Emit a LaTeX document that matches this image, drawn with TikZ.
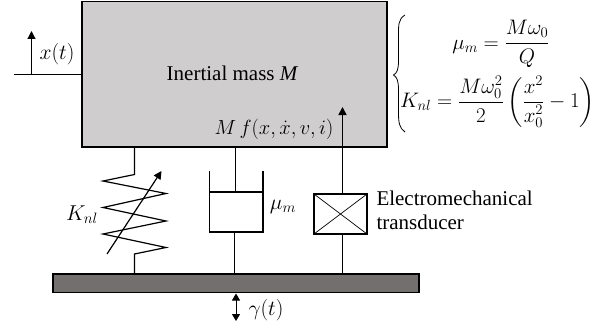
\documentclass[tikz,border=0pt]{standalone}
\usepackage{fix-cm}
\usepackage{amsmath}
\usepackage{fontspec}
\setmainfont{Liberation Serif}
\usetikzlibrary{arrows.meta}
\definecolor{massgray}{RGB}{207,205,206}
\definecolor{basegray}{RGB}{115,111,110}
\tikzset{
  every node/.style={outer sep=0pt},
  wire/.style={draw=black,line width=1.2pt},
  massbox/.style={draw=black,line width=1.3pt,fill=massgray,minimum width=305pt,minimum height=145.5pt,inner sep=0pt},
  basebox/.style={draw=black,line width=1.2pt,fill=basegray,minimum width=366pt,minimum height=18.5pt,inner sep=0pt},
  dampbox/.style={draw=black,line width=1.2pt,fill=white,minimum width=53.5pt,minimum height=40pt,inner sep=0pt},
  transbox/.style={draw=black,line width=1.2pt,fill=white,minimum width=53pt,minimum height=40pt,inner sep=0pt},
  tip/.style={-{Triangle[length=8pt,width=8pt]}},
  lab/.style={inner sep=0pt,font=\fontsize{21.5}{24}\selectfont},
  flab/.style={inner sep=0pt,font=\fontsize{20.5}{24}\selectfont},
  eqn/.style={inner sep=0pt,font=\fontsize{21}{24}\selectfont},
  txt/.style={inner sep=0pt,font=\fontsize{21}{23.5}\selectfont},
}
\begin{document}
\begin{tikzpicture}[x=1pt,y=-1pt]
\useasboundingbox (0,0) rectangle (612,329);
% bodies
\node[massbox,anchor=north west] (mass) at (82,1.5) {};
\node[basebox,anchor=north west] (base) at (53,274) {};
\node[txt,anchor=base] (title) at (232.5,80.7) {Inertial mass \textit{M}};
\node[flab] (force) at (274,129) {$M\,f(x,\dot{x},v,i)$};
% x(t)
\coordinate (xstart) at (13.5,74.5);
\coordinate (xfoot) at (31.5,74.5);
\coordinate (xtip) at (31.5,31);
\draw[wire] (xstart) -- (xstart -| mass.west);
\draw[wire,tip] (xfoot) -- (xtip);
\node[lab] (xlab) at (57,54.5) {$x(t)$};
% spring
\coordinate (s0) at (134.5,147);
\coordinate (s1) at (134.5,174.5);
\coordinate (s2) at (134.5,254);
\coordinate (s3) at (134.5,274);
\draw[wire,line join=miter] (s0) -- (s1) -- (103,181) -- (166,193.5) -- (103,207.5) -- (166,221) -- (103,234) -- (166,247.5) -- (s2) -- (s3);
\coordinate (sa) at (107,254);
\coordinate (sb) at (161.5,171);
\draw[wire,tip] (sa) -- (sb);
\node[lab] (klab) at (82,215) {$K_{nl}$};
% damper
\node[dampbox,anchor=north west] (damp) at (209.5,192) {};
\coordinate (dtop) at (235.5,147);
\coordinate (dmid) at (235.5,192);
\coordinate (dbot) at (234.5,232);
\coordinate (dbase) at (234.5,274);
\draw[wire] (dtop) -- (dmid);
\draw[wire] (dbot) -- (dbase);
\coordinate (wl) at (209.5,171);
\coordinate (wr) at (263,171);
\draw[wire] (wl) -- (damp.north west);
\draw[wire] (wr) -- (damp.north east);
\node[lab] (mulab) at (283,207) {$\mu_m$};
% transducer
\node[transbox,anchor=north west] (trans) at (314,194) {};
\draw[line width=.7pt] (trans.north west) -- (trans.south east);
\draw[line width=.7pt] (trans.south west) -- (trans.north east);
\coordinate (tbase) at (342.5,274);
\coordinate (tbot) at (342.5,234);
\coordinate (ttop) at (342.5,194);
\coordinate (tmass) at (342.5,147);
\coordinate (ttip) at (342.5,107);
\draw[wire] (tbase) -- (tbot);
\draw[wire] (ttop) -- (tmass);
\draw[line width=1.6pt,tip] (tmass) -- (ttip);
\node[txt,anchor=base west,align=left] (tlab) at (376.5,229.2) {Electromechanical\\transducer};
% gamma
\coordinate (g0) at (236,293.5);
\coordinate (g1) at (236,321);
\draw[line width=1pt,{Triangle[length=7pt,width=8pt]}-{Triangle[length=7pt,width=8pt]}] (g0) -- (g1);
\node[lab] (glab) at (266,310) {$\gamma(t)$};
% brace
\draw[line width=.8pt] (405,15) .. controls (398,19) and (398.5,26) .. (398.5,36) -- (398.5,60) .. controls (398.5,70) and (397,73) .. (393.5,75) .. controls (397,77) and (398.5,81) .. (398.5,90) -- (398.5,112) .. controls (398.5,122) and (399,128) .. (405,132);
% equations
\node[eqn] (eq1) at (501,44) {$\displaystyle \mu_m=\frac{M\omega_0}{Q}$};
\node[eqn] (eq2) at (497.5,102) {$\displaystyle K_{nl}=\frac{M\omega_0^2}{2}\left(\frac{x^2}{x_0^2}-1\right)$};
\end{tikzpicture}
\end{document}
